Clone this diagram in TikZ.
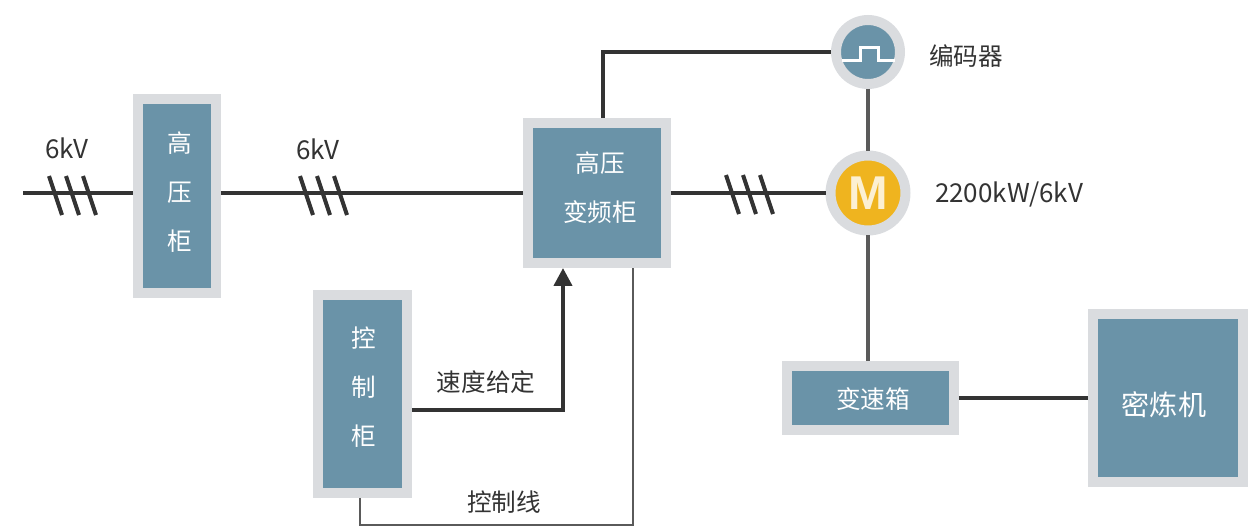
\documentclass[tikz,border=0pt]{standalone}
\usepackage{fontspec}
\setmainfont{Noto Sans CJK SC}
\newfontfamily\motorfont{Liberation Sans}
\usetikzlibrary{arrows.meta}
\definecolor{boxblue}{HTML}{6A93A8}
\definecolor{boxgray}{HTML}{DADCDF}
\definecolor{motorgold}{HTML}{EFB41F}
\definecolor{wiredark}{HTML}{333333}
\definecolor{wiregray}{HTML}{5A5A5A}
\definecolor{labeldark}{HTML}{333333}
\tikzset{
	cabinet/.style={draw=boxgray, fill=boxblue, line width=0.2cm, inner sep=0pt},
	round unit/.style={cabinet, circle},
	boxtext/.style={text=white, align=center, inner sep=0pt, font=\fontsize{14}{27.8}\selectfont},
	plaintext/.style={text=labeldark, inner sep=0pt, font=\fontsize{14}{16}\selectfont},
	latintext/.style={plaintext, font=\fontsize{14.8}{16}\selectfont},
	wire/.style={draw=wiredark, line width=0.07cm},
	thinwire/.style={draw=wiregray, line width=0.05cm},
	phase/.pic={
		\draw [wiredark, line width=0.08cm] (-24,-19) -- (-11,20) (-7,-19) -- (6,20) (10,-19) -- (23,20);
	}
}
\begin{document}
\begin{tikzpicture}[x=0.02cm, y=-0.02cm]
	\useasboundingbox (0,0) rectangle (1248,527);
	\node [cabinet, minimum width=1.56cm, minimum height=3.88cm] (hv) at (177,196) {};
	\node [cabinet, minimum width=2.76cm, minimum height=2.8cm] (vfd) at (597,193) {};
	\node [cabinet, minimum width=1.78cm, minimum height=3.96cm] (ctrl) at (362.5,394) {};
	\node [cabinet, minimum width=3.34cm, minimum height=1.28cm] (gear) at (870.5,398) {};
	\node [cabinet, minimum width=3.02cm, minimum height=3.36cm] (mixer) at (1168,398) {};
	\node [round unit, minimum size=1.28cm] (encoder) at (868,52) {};
	\node [round unit, fill=motorgold, minimum size=1.5cm, text=white!80!motorgold, font=\motorfont\fontsize{27}{27}\selectfont\bfseries] (motor) at (868,193) {M};
	\node [boxtext] (hvtext) at (180,192) {高\\压\\柜};
	\node [boxtext] (vfdtext) at (600,188) {高压\\变频柜};
	\node [boxtext] (ctrltext) at (364,387) {控\\制\\柜};
	\node [boxtext] (geartext) at (873,399) {变速箱};
	\node [boxtext, font=\fontsize{16}{16}\selectfont] (mixertext) at (1164,405) {密炼机};
	\node [latintext] (inlabel) at (67,148) {6kV};
	\node [latintext] (buslabel) at (318,149) {6kV};
	\node [plaintext] (enclabel) at (966,56) {编码器};
	\node [latintext] (motorlabel) at (1009,194) {2200kW/6kV};
	\node [plaintext] (speedlabel) at (486,382) {速度给定};
	\node [plaintext] (linelabel) at (504,502) {控制线};
	\coordinate (feed) at (23,193);
	\coordinate (speedturn) at (563,410);
	\coordinate (encturn) at (603,52);
	\coordinate (ctrlturn) at (360,525);
	\coordinate (vfdturn) at (633,525);
	\draw [wire] (feed) -- (feed -| hv.west);
	\draw [wire] (hv.east |- vfd.west) -- (vfd.west);
	\draw [wire] (vfd.east) -- (motor.west);
	\draw [wire] (encturn |- vfd.north) -- (encturn) -- (encoder.west);
	\draw [thinwire, line width=0.08cm] (encoder.south) -- (motor.north);
	\draw [thinwire, line width=0.08cm] (motor.south) -- (motor.south |- gear.north);
	\draw [wire] (gear.east) -- (mixer.west);
	\draw [wire, line width=0.08cm, -{Triangle[length=0.36cm, width=0.36cm]}] (ctrl.east |- speedturn) -- (speedturn) -- (speedturn |- vfd.south);
	\draw [thinwire] (ctrlturn |- ctrl.south) -- (ctrlturn) -- (vfdturn) -- (vfdturn |- vfd.south);
	\pic at (73,195) {phase};
	\pic at (324,195) {phase};
	\pic at (750,194) {phase};
	\draw [white, line width=0.06cm] (842,61) -- (860,61) -- (860,48) -- (878,48) -- (878,61) -- (895,61);
\end{tikzpicture}
\end{document}
